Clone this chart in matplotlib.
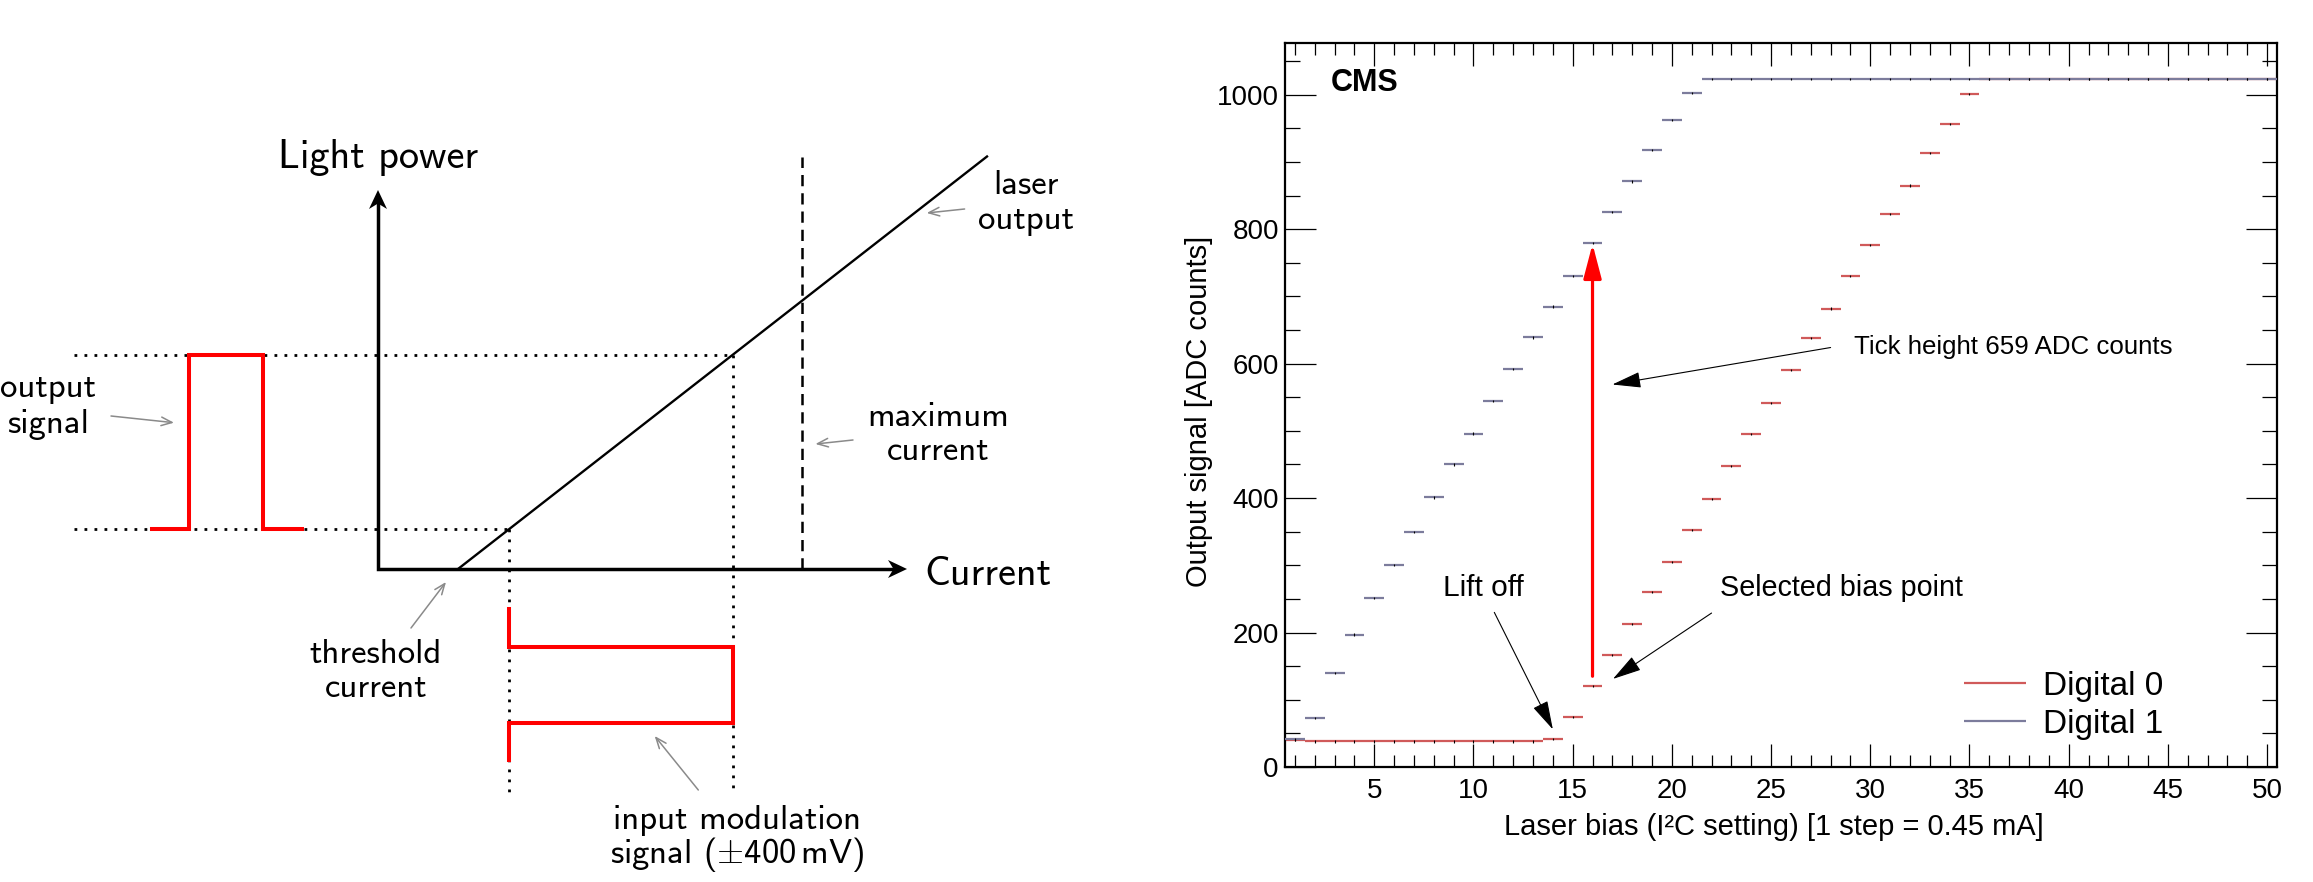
import matplotlib
matplotlib.use("Agg")
import matplotlib.pyplot as plt
import numpy as np
from matplotlib.ticker import MultipleLocator
from matplotlib.patches import Polygon

plt.rcParams['font.family'] = ['Liberation Sans', 'DejaVu Sans']
plt.rcParams['mathtext.fontset'] = 'cm'

# ---------------- data (right panel) ----------------
laser_bias = np.arange(1, 51)
digital0 = [40, 38, 38, 38, 38, 38, 38, 38, 38, 38, 38, 38, 38, 42, 75, 120, 166, 213,
            260, 305, 353, 399, 448, 495, 542, 590, 638, 682, 730, 776, 823, 865, 913,
            956, 1001, 1024, 1024, 1024, 1024, 1024, 1024, 1024, 1024, 1024, 1024,
            1024, 1024, 1024, 1024, 1024]
digital1 = [41, 73, 140, 197, 251, 300, 349, 401, 450, 496, 544, 592, 639, 685, 731,
            780, 826, 871, 918, 962, 1003, 1024, 1024, 1024, 1024, 1024, 1024, 1024,
            1024, 1024, 1024, 1024, 1024, 1024, 1024, 1024, 1024, 1024, 1024, 1024,
            1024, 1024, 1024, 1024, 1024, 1024, 1024, 1024, 1024, 1024]
series_labels = ["Digital 0", "Digital 1"]
tick_arrow = (16, 135, 778)          # x, from, to  (tick height 659 ADC counts)

# ---------------- schematic (left panel), abstract units ----------------
threshold_current = 0.80
laser_end = (6.09, 4.125)
bias_low, bias_high = 1.31, 3.55
max_current = 4.24
power_axis_top = 3.79
current_axis_end = 5.29
pulse_x = [-2.26, -1.89, -1.89, -1.15, -1.15, -0.76]
mod_y = [-0.40, -0.775, -0.775, -1.535, -1.535, -1.91]
guide_left = -3.04
guide_bottom = -2.26

RED = '#ff0000'
C0 = '#d05a5a'
C1 = '#7c7c9c'
GREY = '#8a8a8a'
SCH = ['cmss10', 'DejaVu Sans']

fig = plt.figure(figsize=(23.13, 8.82), dpi=100)

# ================= left schematic =================
a0 = fig.add_axes([0, 0, 1170 / 2313, 1])
a0.set_xlim(-3.78, 7.92)
a0.set_ylim(-3.13, 5.69)
a0.axis('off')

slope = laser_end[1] / (laser_end[0] - threshold_current)
p_low = slope * (bias_low - threshold_current)
p_high = slope * (bias_high - threshold_current)

def dart(ax, tip, d, L=0.19, W=0.09, notch=0.055):
    d = np.asarray(d, float)
    n = np.array([-d[1], d[0]])
    t = np.asarray(tip, float)
    pts = [t, t - L * d + W * n, t - (L - notch) * d, t - L * d - W * n]
    ax.add_patch(Polygon(pts, closed=True, color='k', lw=0, zorder=5))

dot = (0, (1, 2.6))
dot_kw = dict(color='k', lw=2.0, ls=dot, dash_capstyle='butt')
# dotted guides
a0.plot([guide_left, bias_high], [p_high, p_high], **dot_kw)
a0.plot([guide_left, bias_low], [p_low, p_low], **dot_kw)
a0.plot([bias_low, bias_low], [p_low, guide_bottom], **dot_kw)
a0.plot([bias_high, bias_high], [p_high, guide_bottom], **dot_kw)

# axes
a0.plot([0, 0, current_axis_end - 0.1], [power_axis_top - 0.1, 0, 0], color='k', lw=2.5,
        solid_joinstyle='miter', solid_capstyle='butt', zorder=4)
dart(a0, (0, power_axis_top), (0, 1))
dart(a0, (current_axis_end, 0), (1, 0))

# laser response and max current
a0.plot([threshold_current, laser_end[0]], [0, laser_end[1]], color='k', lw=1.7)
a0.plot([max_current, max_current], [0, laser_end[1]], color='k', lw=1.8,
        ls=(0, (4.5, 2.8)))

# red signals
a0.plot(pulse_x, [p_low, p_low, p_high, p_high, p_low, p_low], color=RED, lw=2.9,
        solid_joinstyle='miter', zorder=6)
a0.plot([bias_low, bias_low, bias_high, bias_high, bias_low, bias_low], mod_y, color=RED,
        lw=2.9, solid_joinstyle='miter', zorder=6)

# texts
a0.text(0.0, 4.01, "Light power", fontsize=29, family=SCH, ha='center', va='baseline')
a0.text(5.46, -0.16, "Current", fontsize=29, family=SCH, ha='left', va='baseline')
fs = 25
a0.text(-3.30, 1.723, "output", fontsize=fs, family=SCH, ha='center', va='baseline')
a0.text(-3.30, 1.36, "signal", fontsize=fs, family=SCH, ha='center', va='baseline')
a0.text(-0.02, -0.937, "threshold", fontsize=fs, family=SCH, ha='center', va='baseline')
a0.text(-0.02, -1.283, "current", fontsize=fs, family=SCH, ha='center', va='baseline')
a0.text(6.48, 3.755, "laser", fontsize=fs, family=SCH, ha='center', va='baseline')
a0.text(6.48, 3.40, "output", fontsize=fs, family=SCH, ha='center', va='baseline')
a0.text(5.60, 1.43, "maximum", fontsize=fs, family=SCH, ha='center', va='baseline')
a0.text(5.60, 1.09, "current", fontsize=fs, family=SCH, ha='center', va='baseline')
a0.text(3.59, -2.595, "input modulation", fontsize=fs, family=SCH, ha='center', va='baseline')
a0.text(3.59, -2.935, r"signal ($\pm$400$\,$mV)", fontsize=fs, family=SCH, ha='center',
        va='baseline')

grey_arrows = [((-2.67, 1.53), (-2.04, 1.463)),
               ((0.33, -0.59), (0.68, -0.13)),
               ((5.866, 3.60), (5.487, 3.56)),
               ((4.75, 1.29), (4.374, 1.25)),
               ((3.203, -2.21), (2.767, -1.67))]
for s, e in grey_arrows:
    a0.annotate('', xy=e, xytext=s,
                arrowprops=dict(arrowstyle='->,head_length=0.55,head_width=0.22',
                                color=GREY, lw=1.1, shrinkA=0, shrinkB=0,
                                mutation_scale=14))

# ================= right data plot =================
L, B, R, T = 1285, 767, 2277, 43
ax = fig.add_axes([L / 2313, (882 - B) / 882, (R - L) / 2313, (B - T) / 882])
x = np.asarray(laser_bias)
h0 = ax.hlines(digital0, x - 0.5, x + 0.5, colors=C0, lw=1.6, label=series_labels[0], zorder=2)
h1 = ax.hlines(digital1, x - 0.5, x + 0.5, colors=C1, lw=1.6, label=series_labels[1], zorder=3)
for v in (digital0, digital1):
    v = np.asarray(v, float)
    ax.vlines(x, v - 1.6, v + 1.6, colors='k', lw=0.8, zorder=4)

ax.set_xlim(0.5, 50.5)
ax.set_ylim(0, 1077)
ax.xaxis.set_major_locator(MultipleLocator(5))
ax.xaxis.set_minor_locator(MultipleLocator(1))
ax.yaxis.set_major_locator(MultipleLocator(200))
ax.yaxis.set_minor_locator(MultipleLocator(50))
ax.tick_params(which='both', direction='in', top=True, right=True, width=0.9, labelsize=20)
ax.tick_params(axis='x', which='major', length=16.5, pad=8)
ax.tick_params(axis='x', which='minor', length=8.5)
ax.tick_params(axis='y', which='major', length=22, pad=4.5)
ax.tick_params(axis='y', which='minor', length=11)
for sp in ax.spines.values():
    sp.set_linewidth(1.6)

ax.text(0.4924, -0.0939, "Laser bias (I²C setting) [1 step = 0.45 mA]", fontsize=21,
        transform=ax.transAxes, ha='center', va='baseline')
ax.text(-0.0869, 0.4906, "Output signal [ADC counts]", fontsize=21, rotation=90,
        transform=ax.transAxes, ha='center', va='center')

ax.text(2.8, 1005, "CMS", fontsize=22, fontweight='bold', ha='left', va='baseline')
ax.text(8.46, 255, "Lift off", fontsize=21.5, ha='left', va='baseline')
ax.text(22.45, 254, "Selected bias point", fontsize=20.7, ha='left', va='baseline')
ax.text(29.2, 615, "Tick height 659 ADC counts", fontsize=18.6, ha='left', va='baseline')

black_arrow = dict(arrowstyle='-|>,head_length=1.8,head_width=0.5', color='k', lw=0.8,
                   shrinkA=0, shrinkB=0, mutation_scale=10)
ax.annotate('', xy=(14.0, 56), xytext=(11.05, 230), arrowprops=black_arrow)
ax.annotate('', xy=(17.03, 131), xytext=(22.0, 229), arrowprops=black_arrow)
ax.annotate('', xy=(17.0, 569), xytext=(28.0, 624), arrowprops=black_arrow)
ax.annotate('', xy=(tick_arrow[0], tick_arrow[2]), xytext=(tick_arrow[0], tick_arrow[1]),
            arrowprops=dict(arrowstyle='-|>,head_length=2.1,head_width=0.55', color=RED,
                            lw=2.3, shrinkA=0, shrinkB=0, mutation_scale=10), zorder=5)

ax.legend(handles=[h0, h1], loc='center left', bbox_to_anchor=(0.6844, 0.0853),
          frameon=False, fontsize=24, handlelength=1.85, handletextpad=0.52,
          labelspacing=0.22, borderpad=0, borderaxespad=0)

fig.savefig("out.png", dpi=100)
